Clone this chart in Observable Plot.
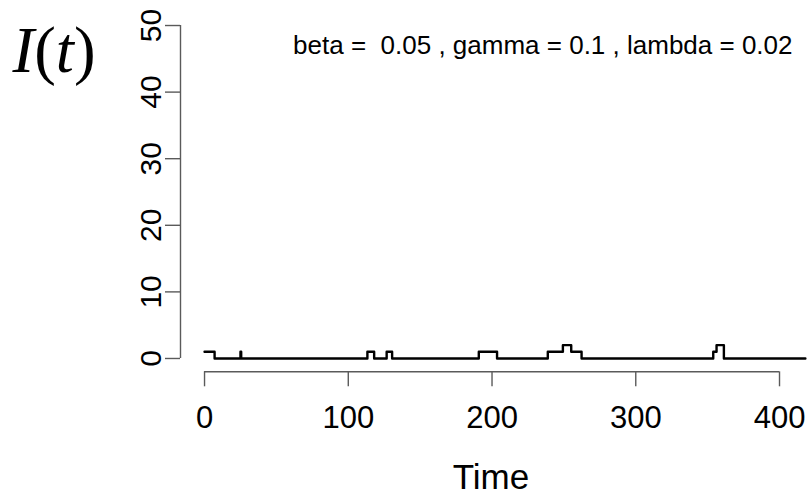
<!DOCTYPE html>
<html>
<head>
<meta charset="utf-8">
<script src="https://cdn.jsdelivr.net/npm/d3@7"></script>
<script src="https://cdn.jsdelivr.net/npm/@observablehq/plot@0.6"></script>
<style>
  html, body { margin: 0; padding: 0; background: #fff; }
  #chart svg { display: block; white-space: pre; }
</style>
</head>
<body>
<div id="chart"></div>
<script>
// Step series I(t): times where the count changes, and the count from that time on
const times    = [0, 7, 25, 25.5, 113.3, 118, 126.7, 130.5, 190.8, 203.5, 238.8, 249.3, 255.1, 262.3, 353.9, 356.2, 361.3, 418];
const infected = [1, 0, 1,  0,    1,     0,   1,     0,     1,     0,     1,     2,     1,     0,     1,     2,     0,     0];

const xTicks = [0, 100, 200, 300, 400];
const yTicks = [0, 10, 20, 30, 40, 50];

const beta = 0.05, gamma = 0.1, lambda = 0.02;
const annotation = `beta =  ${beta} , gamma = ${gamma} , lambda = ${lambda}`;
const xLabel = "Time";
const yLabel = "I(t)";

const xDomain = [-16.72, 422.95];
const yDomain = [-2, 52];

const data = times.map((t, i) => ({t, v: infected[i]}));
const axisGrey = "#5a5a5a";

const chart = Plot.plot({
  width: 812,
  height: 497,
  marginLeft: 180,
  marginRight: 0,
  marginTop: 11.7,
  marginBottom: 125.7,
  style: {fontFamily: "Liberation Sans, Arial, sans-serif", background: "white", color: "black"},
  x: {domain: xDomain, label: null},
  y: {domain: yDomain, label: null},
  marks: [
    // axis lines (R style, span first to last tick)
    Plot.ruleX([xDomain[0]], {y1: yTicks[0], y2: yTicks[yTicks.length - 1], stroke: axisGrey, strokeWidth: 1.4}),
    Plot.ruleY([yDomain[0]], {x1: xTicks[0], x2: xTicks[xTicks.length - 1], stroke: axisGrey, strokeWidth: 1.4}),
    Plot.axisX({ticks: xTicks, tickSize: 15, tickPadding: 19, fontSize: 31, stroke: axisGrey, strokeWidth: 1.4, fill: "black", label: null, tickFormat: d => String(d)}),
    Plot.axisY({ticks: yTicks, tickSize: 15, stroke: axisGrey, strokeWidth: 1.4, label: null, tickFormat: () => ""}),
    Plot.text(yTicks, {y: d => d, text: d => String(d), frameAnchor: "left", dx: -29, rotate: -90,
      textAnchor: "middle", lineAnchor: "middle", fontSize: 30, fill: "black"}),
    // the step line
    Plot.line(data, {x: "t", y: "v", curve: "step-after", stroke: "black", strokeWidth: 2.4}),
    // annotation
    Plot.text([annotation], {text: d => d, frameAnchor: "top-right", dx: -20, dy: 23.1,
      textAnchor: "end", lineAnchor: "top", fontSize: 26, fill: "black"}),
    // x axis title
    Plot.text([xLabel], {text: d => d, frameAnchor: "bottom", dx: -5.5, dy: 92.5, lineAnchor: "top",
      textAnchor: "middle", fontSize: 35, fill: "black"}),
    // y axis title
    Plot.text([yLabel], {text: d => d, frameAnchor: "top-left", dx: -168, dy: 14, lineAnchor: "top",
      textAnchor: "start", fontSize: 65, fontFamily: "Liberation Serif, serif", fill: "black"})
  ]
});
document.getElementById("chart").appendChild(chart);

// Render I(t) like math: italic letters, upright parentheses
d3.select(chart).selectAll("text").filter(function () { return this.textContent === yLabel; }).each(function () {
  const lab = d3.select(this);
  lab.text(null);
  [["I", "italic"], ["(", "normal"], ["t", "italic"], [")", "normal"]].forEach(([s, st]) => {
    lab.append("tspan").attr("font-style", st).text(s);
  });
});
</script>
</body>
</html>
